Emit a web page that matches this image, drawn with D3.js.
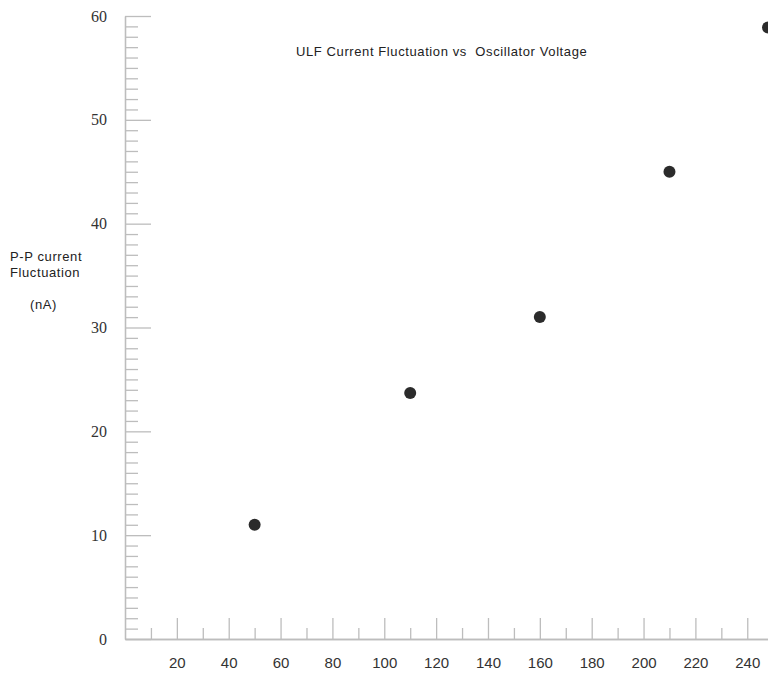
<!DOCTYPE html>
<html>
<head>
<meta charset="utf-8">
<script src="https://d3js.org/d3.v7.min.js"></script>
<style>
 body { margin: 0; background: white; }
</style>
</head>
<body>
<svg id="mysvg"></svg>
<script>
var voltage = [50, 110, 160, 210, 248];
var fluctuation = [11, 23.7, 31, 45, 58.9];
var xMajor = [20, 40, 60, 80, 100, 120, 140, 160, 180, 200, 220, 240];
var xMinor = [10, 30, 50, 70, 90, 110, 130, 150, 170, 190, 210, 230];
var yMajor = [0, 10, 20, 30, 40, 50, 60];
var yMinor = d3.range(0, 61).filter(function(d){ return d % 10 != 0; });
var title = "ULF Current Fluctuation vs  Oscillator Voltage";
var yLabel = ["P-P current", "Fluctuation"];
var yUnit = "(nA)";

var width = 768, height = 675;
var axisColor = "#bdbdbd";

var svg = d3.select("#mysvg")
  .attr("width", width)
  .attr("height", height);

var xScale = d3.scaleLinear()
  .domain([0, 248])
  .range([125, 768]);

var yScale = d3.scaleLinear()
  .domain([0, 60])
  .range([639, 16]);

// minor ticks first
svg.append("g")
  .attr("transform", "translate(125,0)")
  .call(d3.axisLeft(yScale).tickValues(yMinor).tickSizeInner(-13).tickSizeOuter(0).tickFormat(""));

svg.append("g")
  .attr("transform", "translate(0,639)")
  .call(d3.axisBottom(xScale).tickValues(xMinor).tickSizeInner(-11).tickSizeOuter(0).tickFormat(""));

var yAxis = svg.append("g")
  .attr("transform", "translate(125,0)")
  .call(d3.axisLeft(yScale).tickValues(yMajor).tickSizeInner(-26).tickSizeOuter(0).tickPadding(18));
yAxis.selectAll("text")
  .style("font-family", "'Liberation Serif', serif")
  .style("font-size", "16px")
  .attr("fill", "#333");

var xAxis = svg.append("g")
  .attr("transform", "translate(0,639)")
  .call(d3.axisBottom(xScale).tickValues(xMajor).tickSizeInner(-21).tickSizeOuter(0).tickPadding(18));
xAxis.selectAll("text")
  .style("font-family", "'Liberation Sans', Arial, sans-serif")
  .style("font-size", "15px")
  .attr("fill", "#333");

svg.selectAll(".domain, .tick line")
  .attr("stroke", axisColor)
  .attr("stroke-width", 1.3);

svg.selectAll("circle")
  .data(voltage)
  .enter().append("circle")
  .attr("cx", function(d){ return xScale(d); })
  .attr("cy", function(d, i){ return yScale(fluctuation[i]); })
  .attr("r", 6)
  .attr("fill", "#2b2b2b");

svg.append("text")
  .attr("x", 296)
  .attr("y", 56)
  .style("font-family", "'Liberation Sans', Arial, sans-serif")
  .style("font-size", "13px")
  .style("letter-spacing", "0.6px")
  .attr("fill", "#222")
  .attr("xml:space", "preserve")
  .text(title);

svg.selectAll(".ylab")
  .data(yLabel)
  .enter().append("text")
  .attr("class", "ylab")
  .attr("x", 10)
  .attr("y", function(d, i){ return 261 + i * 16; })
  .style("font-family", "'Liberation Sans', Arial, sans-serif")
  .style("font-size", "13px")
  .style("letter-spacing", "0.6px")
  .attr("fill", "#222")
  .text(function(d){ return d; });

svg.append("text")
  .attr("x", 30)
  .attr("y", 309)
  .style("font-family", "'Liberation Sans', Arial, sans-serif")
  .style("font-size", "13px")
  .style("letter-spacing", "0.6px")
  .attr("fill", "#222")
  .text(yUnit);
</script>
</body>
</html>
